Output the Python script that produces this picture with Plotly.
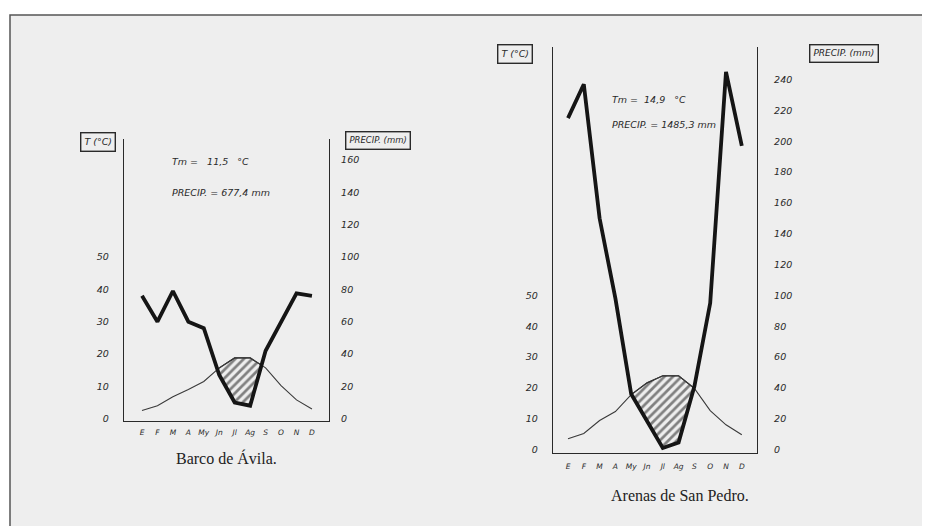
import plotly.graph_objects as go

W, H = 930, 526
OFF = 8  # page body margin of the browser

months = ["E", "F", "M", "A", "My", "Jn", "Jl", "Ag", "S", "O", "N", "D"]

# Barco de Ávila
barco_temp = [2.5, 4.0, 6.8, 9.0, 11.5, 15.7, 18.8, 18.8, 15.7, 10.2, 5.8, 3.0]
barco_prec = [76, 60, 79, 60, 56, 27, 10, 8, 42, 60, 77.5, 76]

# Arenas de San Pedro
arenas_temp = [3.5, 5.2, 9.4, 12.3, 17.8, 21.6, 23.9, 23.9, 19.8, 12.6, 8.0, 4.8]
arenas_prec = [215, 237, 150, 98, 36, 18, 1, 4.5, 41, 95, 245, 197]

barco_t_ticks = [0, 10, 20, 30, 40, 50]
barco_p_ticks = [0, 20, 40, 60, 80, 100, 120, 140, 160]
arenas_t_ticks = [0, 10, 20, 30, 40, 50]
arenas_p_ticks = [0, 20, 40, 60, 80, 100, 120, 140, 160, 180, 200, 220, 240]

INK = "#2a2a2a"
HAND = dict(family="DejaVu Sans", size=9, color="#2a2a2a", style="italic")
TICKF = dict(family="DejaVu Sans", size=9.5, color="#2a2a2a", style="italic")
MONTHF = dict(family="DejaVu Sans", size=7.5, color="#2a2a2a", style="italic")


def px_x(p):
    return (p - OFF) / W


def px_y(p):
    return 1 - (p - OFF) / H


def hatch_polygon(x, T, Ph):
    pts = []
    n = len(x)
    for i in range(n):
        pts.append((x[i], T[i], Ph[i]))
        if i < n - 1:
            d0 = T[i] - Ph[i]
            d1 = T[i + 1] - Ph[i + 1]
            if d0 * d1 < 0:
                f = d0 / (d0 - d1)
                xc = x[i] + f * (x[i + 1] - x[i])
                tc = T[i] + f * (T[i + 1] - T[i])
                pts.append((xc, tc, tc))
    groups, cur = [], []
    for p in pts:
        if p[1] - p[2] >= -1e-9:
            cur.append(p)
        else:
            if len(cur) >= 2:
                groups.append(cur)
            cur = []
    if len(cur) >= 2:
        groups.append(cur)
    xs, ys = [], []
    for g in groups:
        xs += [p[0] for p in g] + [p[0] for p in reversed(g)] + [g[0][0], None]
        ys += [p[1] for p in g] + [p[2] for p in reversed(g)] + [g[0][1], None]
    return xs, ys


fig = go.Figure()


def add_panel(temp, prec, xa, ya, ya2):
    xs = list(range(len(months)))
    hx, hy = hatch_polygon(xs, temp, [p / 2 for p in prec])
    fig.add_trace(go.Scatter(
        x=hx, y=hy, xaxis=xa, yaxis=ya, mode="lines", fill="toself",
        fillcolor="rgba(0,0,0,0)",
        fillpattern=dict(shape="/", size=6, solidity=0.45, fgcolor="#111111", bgcolor="rgba(0,0,0,0)"),
        line=dict(color="#2a2a2a", width=1.2), hoverinfo="skip", showlegend=False))
    fig.add_trace(go.Scatter(
        x=xs, y=temp, xaxis=xa, yaxis=ya, mode="lines",
        line=dict(color="#3a3a3a", width=1.1), showlegend=False))
    fig.add_trace(go.Scatter(
        x=xs, y=prec, xaxis=xa, yaxis=ya2, mode="lines",
        line=dict(color="#151515", width=3.8), showlegend=False))


add_panel(barco_temp, barco_prec, "x", "y", "y2")
add_panel(arenas_temp, arenas_prec, "x2", "y3", "y4")

axis_common = dict(showgrid=False, zeroline=False, showline=True, linecolor=INK,
                   linewidth=1.4, ticks="", tickfont=TICKF, fixedrange=True)

# panel geometry (pixels in the reference)
p1 = dict(left=124, right=329, top=140, bottom=423, zero=421, pxdeg=3.25, first=142, step=15.45)
p2 = dict(left=553, right=757, top=47, bottom=456, zero=452, pxdeg=3.1, first=568, step=15.8)


def ranges(p):
    xlo = -(p["first"] - p["left"]) / p["step"]
    xhi = 11 + (p["right"] - (p["first"] + 11 * p["step"])) / p["step"]
    tlo = -(p["bottom"] - p["zero"]) / p["pxdeg"]
    thi = (p["zero"] - p["top"]) / p["pxdeg"]
    return [xlo, xhi], [tlo, thi], [2 * tlo, 2 * thi]


xr1, tr1, pr1 = ranges(p1)
xr2, tr2, pr2 = ranges(p2)

fig.update_layout(
    width=W, height=H, autosize=False,
    margin=dict(l=0, r=0, t=0, b=0),
    paper_bgcolor="white", plot_bgcolor="rgba(0,0,0,0)",
    xaxis=dict(axis_common, domain=[px_x(p1["left"]), px_x(p1["right"])], range=xr1,
               anchor="y", tickvals=list(range(12)), ticktext=months, tickfont=MONTHF,
               ticklabelstandoff=4),
    yaxis=dict(axis_common, domain=[px_y(p1["bottom"]), px_y(p1["top"])], range=tr1,
               anchor="x", tickvals=barco_t_ticks, ticklabelstandoff=12),
    yaxis2=dict(axis_common, overlaying="y", side="right", anchor="x", range=pr1,
                tickvals=barco_p_ticks, ticklabelstandoff=9),
    xaxis2=dict(axis_common, domain=[px_x(p2["left"]), px_x(p2["right"])], range=xr2,
                anchor="y3", tickvals=list(range(12)), ticktext=months, tickfont=MONTHF,
                ticklabelstandoff=5),
    yaxis3=dict(axis_common, domain=[px_y(p2["bottom"]), px_y(p2["top"])], range=tr2,
                anchor="x2", tickvals=arenas_t_ticks, ticklabelstandoff=12),
    yaxis4=dict(axis_common, overlaying="y3", side="right", anchor="x2", range=pr2,
                tickvals=arenas_p_ticks, ticklabelstandoff=14),
)

# scanned page frame
fig.add_shape(type="rect", xref="paper", yref="paper", layer="below",
              x0=px_x(10), x1=1.05, y0=-0.05, y1=px_y(15),
              fillcolor="#eeeeee", line=dict(color="#555555", width=1.5))


def ann(text, x, y, size=9, box=False, xanchor="left", font=None):
    f = dict(HAND, size=size) if font is None else font
    kw = dict(text=text, x=px_x(x), y=px_y(y), xref="paper", yref="paper",
              showarrow=False, xanchor=xanchor, yanchor="middle", font=f)
    if box:
        kw.update(bordercolor=INK, borderwidth=1.4, borderpad=3)
    fig.add_annotation(**kw)


# panel 1 texts
ann("T (°C)", 98, 143, size=9.5, box=True, xanchor="center")
ann("PRECIP. (mm)", 378, 141, size=8.5, box=True, xanchor="center")
ann("Tm =   11,5   °C", 170, 162, size=9.5)
ann("PRECIP. = 677,4 mm", 170, 194, size=9.5)
ann("Barco de Ávila.", 226, 461, xanchor="center",
    font=dict(family="Liberation Serif", size=16, color="#222222"))

# panel 2 texts
ann("T (°C)", 515, 54, size=9.5, box=True, xanchor="center")
ann("PRECIP. (mm)", 844, 54, size=9, box=True, xanchor="center")
ann("Tm =  14,9   °C", 610, 100, size=9.5)
ann("PRECIP. = 1485,3 mm", 610, 125, size=9.5)
ann("Arenas de San Pedro.", 680, 498, xanchor="center",
    font=dict(family="Liberation Serif", size=16, color="#222222"))

fig.write_html("out.html")
